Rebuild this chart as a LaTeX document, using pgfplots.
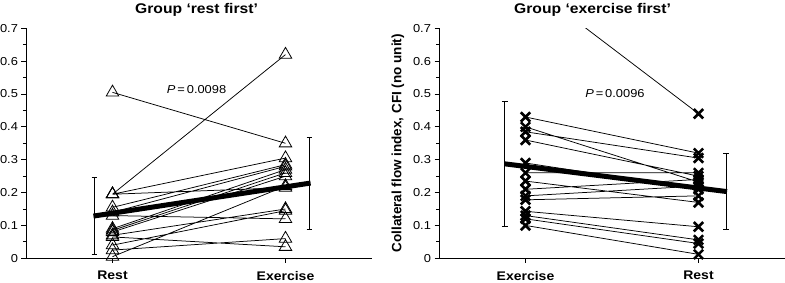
\documentclass[border=0pt]{standalone}
\usepackage{fontspec}
\setmainfont{Liberation Sans}[FakeStretch=1.12]
\newfontfamily\ylabfont{Liberation Sans}
\usepackage{pgfplots}
\usepackage{pgfplotstable}
\pgfplotsset{compat=1.18}

% group 'rest first': x=0 rest, x=1 exercise, nan separates subjects
\pgfplotstableread{
x y
0 0.505
1 0.35
0.5 nan
0 0.195
1 0.62
0.5 nan
0 0.195
1 0.305
0.5 nan
0 0.195
1 0.215
0.5 nan
0 0.155
1 0.285
0.5 nan
0 0.14
1 0.28
0.5 nan
0 0.13
1 0.12
0.5 nan
0 0.09
1 0.27
0.5 nan
0 0.085
1 0.26
0.5 nan
0 0.08
1 0.25
0.5 nan
0 0.07
1 0.15
0.5 nan
0 0.065
1 0.035
0.5 nan
0 0.04
1 0.145
0.5 nan
0 0.025
1 0.06
0.5 nan
0 0.005
1 0.22
}\restfirst

% group 'exercise first': x=0 exercise, x=1 rest
\pgfplotstableread{
x y
0 0.84
1 0.44
0.5 nan
0 0.43
1 0.32
0.5 nan
0 0.40
1 0.232
0.5 nan
0 0.385
1 0.305
0.5 nan
0 0.36
1 0.25
0.5 nan
0 0.29
1 0.21
0.5 nan
0 0.26
1 0.26
0.5 nan
0 0.235
1 0.17
0.5 nan
0 0.21
1 0.24
0.5 nan
0 0.19
1 0.22
0.5 nan
0 0.178
1 0.19
0.5 nan
0 0.143
1 0.096
0.5 nan
0 0.13
1 0.056
0.5 nan
0 0.12
1 0.045
0.5 nan
0 0.10
1 0.012
}\exercisefirst

\pgfplotsset{
  panel/.style={
    scale only axis, width=346pt, height=230pt,
    xmin=-0.5, xmax=1.5, ymin=0, ymax=0.7,
    axis x line*=bottom, axis y line*=left,
    axis line style={-, line width=0.8pt},
    xtick={0,1},
    ytick={0,0.1,0.2,0.3,0.4,0.5,0.6,0.7},
    minor y tick num=1,
    tick align=outside,
    major tick length=4.5pt, minor tick length=3pt,
    every tick/.style={black, line width=0.8pt},
    yticklabel style={font=\fontsize{11.5}{13}\selectfont,
      /pgf/number format/fixed, /pgf/number format/precision=1},
    xticklabel style={font=\bfseries\fontsize{12.5}{14}\selectfont, yshift=-5pt},
    /pgf/number format/assume math mode=true,
    clip mode=individual,
    unbounded coords=jump,
  },
  thin pair/.style={black, line width=0.75pt, mark=none},
  mean line/.style={black, line width=5pt, mark=none},
  sd bar/.style={black, line width=0.9pt, mark=none},
}
\tikzset{paneltitle/.style={anchor=base, yshift=14.3pt, inner sep=0pt,
  font=\bfseries\fontsize{14}{17}\selectfont}}

\begin{document}
\begin{tikzpicture}
\path[use as bounding box] (0pt,0pt) rectangle (785pt,283pt);

% ---------------- left panel ----------------
\begin{axis}[panel,
  at={(26pt,24.7pt)}, anchor=south west,
  xticklabels={Rest, Exercise},
]
\addplot[thin pair] table[x=x, y=y] {\restfirst};
\addplot[only marks, mark=triangle, mark size=7.2pt,
  mark options={fill=white, draw=black, line width=0.8pt},
  unbounded coords=discard, restrict y to domain=-0.1:0.7] table[x=x, y=y] {\restfirst};
% SD bars
\addplot[sd bar] coordinates {(-0.104,0.012) (-0.104,0.245) (0,nan)
  (-0.121,0.012) (-0.087,0.012) (0,nan) (-0.121,0.245) (-0.087,0.245) (0,nan)
  (1.139,0.088) (1.139,0.368) (0,nan)
  (1.122,0.088) (1.156,0.088) (0,nan) (1.122,0.368) (1.156,0.368)};
% mean line
\addplot[mean line] coordinates {(-0.11,0.1285) (1.145,0.229)};
\node[font=\fontsize{11.5}{13}\selectfont] at (axis cs:0.486,0.515) {\textit{P}\,=\,0.0098};
\node[paneltitle] at (axis description cs:0.493,1) {Group ‘rest first’};
\end{axis}

% ---------------- right panel ----------------
\begin{axis}[panel,
  at={(439pt,24.7pt)}, anchor=south west,
  xticklabels={Exercise, Rest},
  ylabel={Collateral flow index, CFI (no unit)},
  ylabel style={at={(axis description cs:-0.1185,0.5)}, anchor=center,
    font=\ylabfont\bfseries\fontsize{13.5}{16}\selectfont},
]
\addplot[thin pair] table[x=x, y=y] {\exercisefirst};
\addplot[only marks, mark=x, mark size=6.6pt,
  mark options={draw=black, line width=2.6pt},
  unbounded coords=discard, restrict y to domain=-0.1:0.7] table[x=x, y=y] {\exercisefirst};
% SD bars
\addplot[sd bar] coordinates {(-0.12,0.098) (-0.12,0.477) (0,nan)
  (-0.137,0.098) (-0.103,0.098) (0,nan) (-0.137,0.477) (-0.103,0.477) (0,nan)
  (1.16,0.088) (1.16,0.318) (0,nan)
  (1.143,0.088) (1.177,0.088) (0,nan) (1.143,0.318) (1.177,0.318)};
% mean line
\addplot[mean line] coordinates {(-0.12,0.2875) (1.165,0.203)};
\node[font=\fontsize{11.5}{13}\selectfont] at (axis cs:0.517,0.50) {\textit{P}\,=\,0.0096};
\node[paneltitle] at (axis description cs:0.444,1) {Group ‘exercise first’};
\end{axis}
\end{tikzpicture}
\end{document}
